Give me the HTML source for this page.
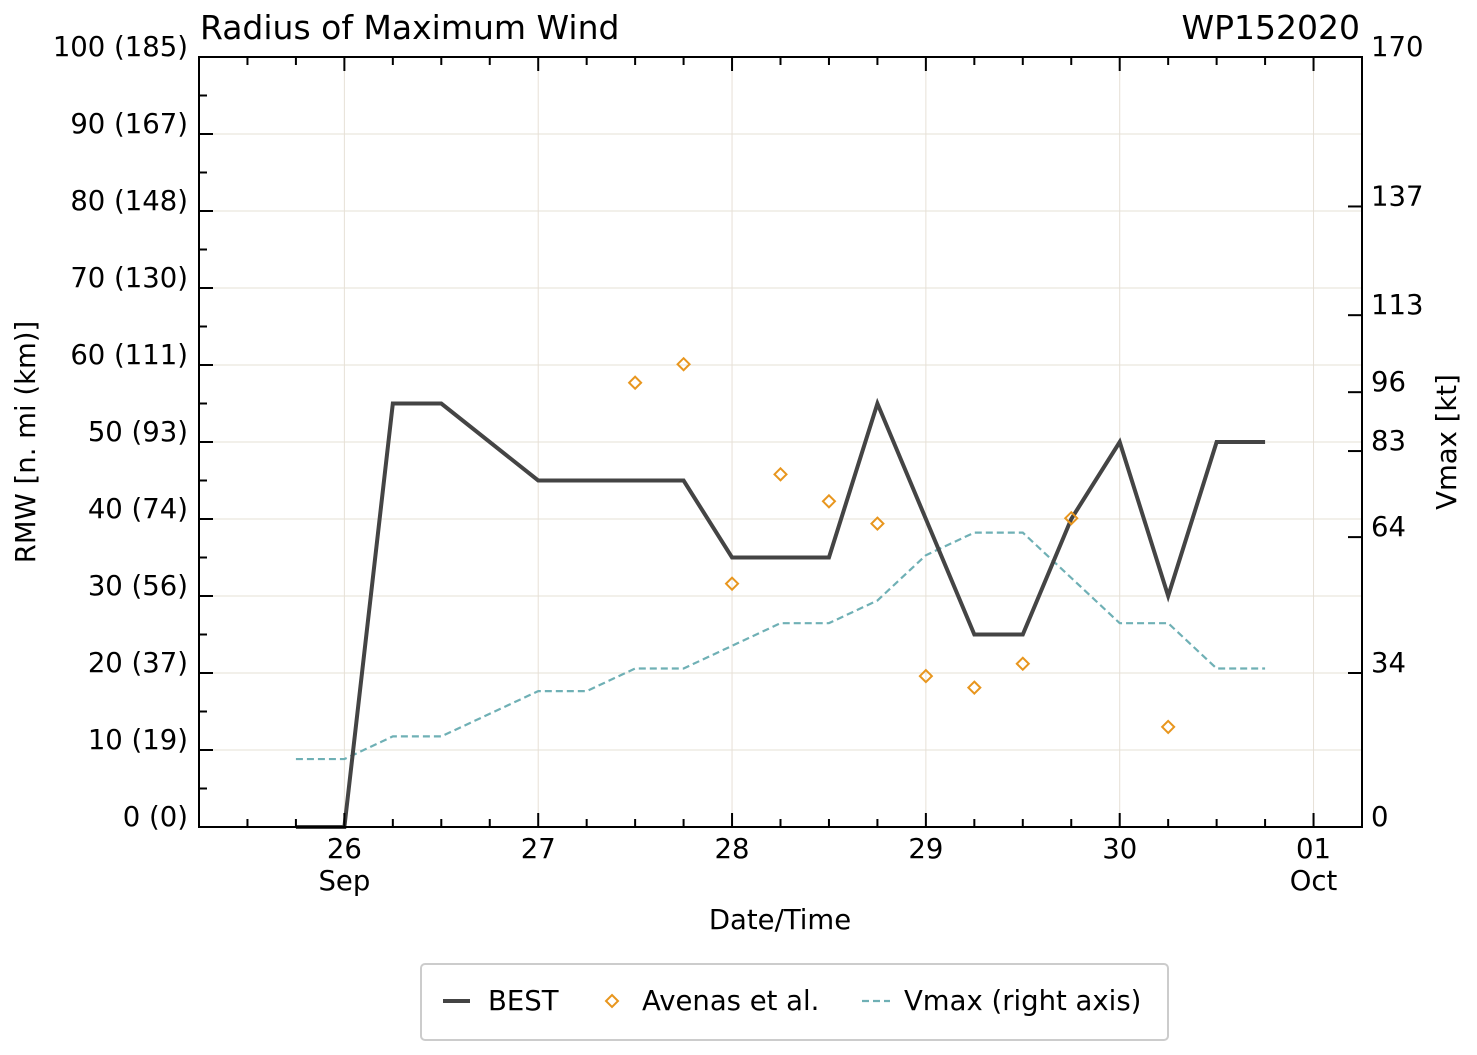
<!DOCTYPE html>
<html><head><meta charset="utf-8"><style>
html,body{margin:0;padding:0;background:#fff}
svg{display:block;font-family:"DejaVu Sans","Liberation Sans",sans-serif}
</style></head><body>
<svg id="chart" width="1477" height="1055" viewBox="0 0 1477 1055">
<text x="200" y="39" font-size="33">Radius of Maximum Wind</text>
<text x="1360" y="39" font-size="33" text-anchor="end">WP152020</text>
<g id="grid"></g>
<g id="series"></g>
<g id="axes"></g>
<text x="780" y="929" font-size="27.5" text-anchor="middle">Date/Time</text>
<text transform="translate(35,442) rotate(-90)" font-size="27.5" text-anchor="middle">RMW [n. mi (km)]</text>
<text transform="translate(1456,442) rotate(-90)" font-size="27.5" text-anchor="middle">Vmax [kt]</text>
<g>
<rect x="421" y="964" width="747" height="76" rx="4" fill="#fff" stroke="#ccc" stroke-width="2"/>
<g><line x1="443" y1="1001" x2="470" y2="1001" stroke="#444" stroke-width="4"/><text x="488" y="1010" font-size="27.5">BEST</text></g>
<g><path d="M612 995 L618 1001 L612 1007 L606 1001 Z" fill="none" stroke="#e8961e" stroke-width="2"/><text x="642" y="1010" font-size="27.5">Avenas et al.</text></g>
<g><line x1="862" y1="1001" x2="890" y2="1001" stroke="#6fb0b5" stroke-width="2.2" stroke-dasharray="7,4"/><text x="904" y="1010" font-size="27.5">Vmax (right axis)</text></g>
</g>
</svg>
<script>
const bestDays=[25.75,26,26.25,26.5,27,27.25,27.5,27.75,28,28.25,28.5,28.75,29,29.25,29.5,29.75,30,30.25,30.5,30.75];
const bestRmw=[0,0,55,55,45,45,45,45,35,35,35,55,40,25,25,40,50,30,50,50];
const avDays=[27.5,27.75,28,28.25,28.5,28.75,29,29.25,29.5,29.75,30.25];
const avRmw=[57.7,60.1,31.6,45.8,42.3,39.4,19.6,18.1,21.2,40.1,13];
const vDays=[25.75,26,26.25,26.5,26.75,27,27.25,27.5,27.75,28,28.25,28.5,28.75,29,29.25,29.5,29.75,30,30.25,30.5,30.75];
const vmax=[15,15,20,20,25,30,30,35,35,40,45,45,50,60,65,65,55,45,45,35,35];
const leftTicks=[0,10,20,30,40,50,60,70,80,90,100];
const leftLabels=["0 (0)","10 (19)","20 (37)","30 (56)","40 (74)","50 (93)","60 (111)","70 (130)","80 (148)","90 (167)","100 (185)"];
const rightTicks=[0,34,64,83,96,113,137,170];
const xTicks=[26,27,28,29,30,31];
const xLabels=["26","27","28","29","30","01"];
const xSub=["Sep","","","","","Oct"];

const L=199,R=1362,T=57,B=827;
const x=d=>L+(d-25.25)/6*(R-L);
const y=v=>B-v/100*(B-T);
const y2=v=>B-v/170*(B-T);
const NS="http://www.w3.org/2000/svg";
function mk(parent,tag,attrs){const e=document.createElementNS(NS,tag);for(const k in attrs)e.setAttribute(k,attrs[k]);document.getElementById(parent).appendChild(e);return e;}

xTicks.forEach(d=>{const e=mk('grid','line',{x1:x(d),x2:x(d),y1:T,y2:B,stroke:'#e6e0d6','stroke-width':1});

});
leftTicks.forEach(v=>{const e=mk('grid','line',{x1:L,x2:R,y1:y(v),y2:y(v),stroke:'#e6e0d6','stroke-width':1});

});

let p=mk('series','polyline',{points:vDays.map((d,i)=>x(d)+','+y2(vmax[i])).join(' '),fill:'none',stroke:'#6fb0b5','stroke-width':2.2,'stroke-dasharray':'7,4'});


p=mk('series','polyline',{points:bestDays.map((d,i)=>x(d)+','+y(bestRmw[i])).join(' '),fill:'none',stroke:'#444','stroke-width':4,'stroke-linejoin':'miter'});


avDays.forEach((d,i)=>{const cx=x(d),cy=y(avRmw[i]);
const e=mk('series','path',{d:`M${cx} ${cy-6}L${cx+6} ${cy}L${cx} ${cy+6}L${cx-6} ${cy}Z`,fill:'none',stroke:'#e8961e','stroke-width':2});

});

const f=mk('axes','rect',{x:L,y:T,width:R-L,height:B-T,fill:'none',stroke:'#000','stroke-width':2});


for(let v=0;v<=100;v+=5){const maj=v%10===0;mk('axes','line',{x1:L,x2:L+(maj?14:8),y1:y(v),y2:y(v),stroke:'#000','stroke-width':2});}
leftTicks.forEach((v,i)=>{const t=mk('axes','text',{x:188,y:y(v)-1,'font-size':27.5,'text-anchor':'end'});t.textContent=leftLabels[i];

});
rightTicks.forEach(v=>{mk('axes','line',{x1:R-14,x2:R,y1:y2(v),y2:y2(v),stroke:'#000','stroke-width':2});
const t=mk('axes','text',{x:1371,y:y2(v)-1,'font-size':27.5});t.textContent=String(v);

});
for(let d=25.5;d<=31.01;d+=0.25){const maj=Math.abs(d-Math.round(d))<1e-6;const len=maj?14:8;
mk('axes','line',{x1:x(d),x2:x(d),y1:B,y2:B-len,stroke:'#000','stroke-width':2});
mk('axes','line',{x1:x(d),x2:x(d),y1:T,y2:T+len,stroke:'#000','stroke-width':2});}
xTicks.forEach((d,i)=>{const t=mk('axes','text',{x:x(d),y:858,'font-size':27.5,'text-anchor':'middle'});t.textContent=xLabels[i];


if(xSub[i]){const s=mk('axes','text',{x:x(d),y:890,'font-size':27.5,'text-anchor':'middle'});s.textContent=xSub[i];

}});
</script>
</body></html>
